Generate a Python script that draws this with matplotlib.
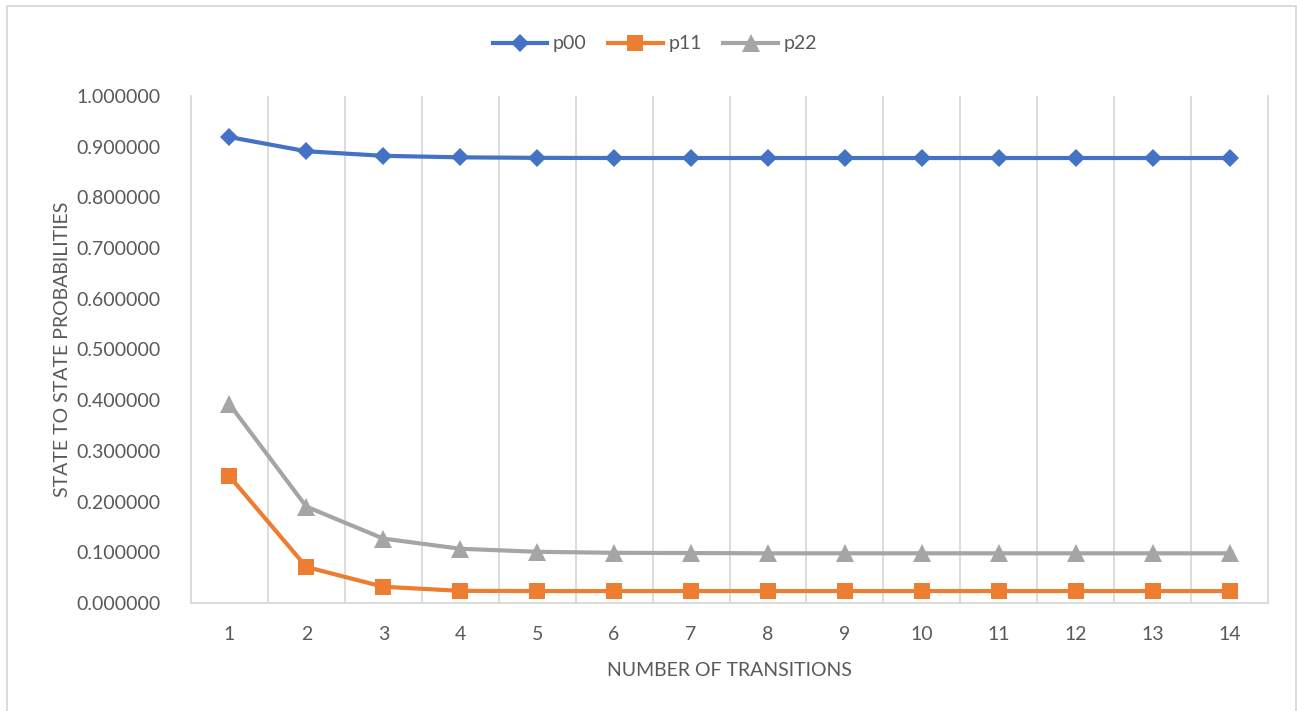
import matplotlib
matplotlib.use("Agg")
import matplotlib.pyplot as plt
from matplotlib.patches import Rectangle
from matplotlib.ticker import FormatStrFormatter

transitions = list(range(1, 15))
p00 = [0.919, 0.891, 0.882, 0.879, 0.878, 0.8777, 0.8777, 0.8777, 0.8777, 0.8777, 0.8777, 0.8777, 0.8777, 0.8777]
p11 = [0.250, 0.071, 0.032, 0.024, 0.0235, 0.0235, 0.0235, 0.0235, 0.0235, 0.0235, 0.0235, 0.0235, 0.0235, 0.0235]
p22 = [0.392, 0.190, 0.127, 0.107, 0.101, 0.099, 0.0985, 0.098, 0.098, 0.098, 0.098, 0.098, 0.098, 0.098]

txt = "#595959"
grid = "#D9D9D9"
plt.rcParams['font.family'] = ['Lato', 'DejaVu Sans']

fig = plt.figure(figsize=(12.97, 7.11), dpi=100)
ax = fig.add_axes([191/1297, 1 - 603/711, (1268 - 191)/1297, (603 - 96)/711])

ax.plot(transitions, p00, color="#4472C4", lw=3, marker="D", ms=9, mew=0, label="p00", zorder=5)
ax.plot(transitions, p11, color="#ED7D31", lw=3, marker="s", ms=11.5, mew=0, label="p11", zorder=4)
ax.plot(transitions, p22, color="#A5A5A5", lw=3, marker="^", ms=12.5, mew=0, label="p22", zorder=3)

ax.set_xlim(0.5, 14.5)
ax.set_ylim(0, 1.0)
ax.set_xticks(transitions)
ax.set_xticks([i + 0.5 for i in range(1, 14)], minor=True)
ax.set_yticks([i / 10 for i in range(11)])
ax.yaxis.set_major_formatter(FormatStrFormatter("%.6f"))
ax.grid(which="minor", axis="x", color=grid, lw=1.3)
ax.tick_params(which="both", length=0, labelsize=14, colors=txt)
ax.tick_params(axis="x", pad=16.5)
ax.tick_params(axis="y", pad=22)

for side in ["left", "right", "bottom"]:
    ax.spines[side].set_color(grid)
    ax.spines[side].set_linewidth(1.3)
ax.spines["top"].set_visible(False)

ax.set_xlabel("NUMBER OF TRANSITIONS", fontsize=14, color=txt, labelpad=13.5)
ax.set_ylabel("STATE TO STATE PROBABILITIES", fontsize=14, color=txt, labelpad=4)

fig.legend(loc="center", bbox_to_anchor=(655/1297, 1 - 44/711), ncol=3, frameon=False,
           fontsize=14, labelcolor=txt, handlelength=2.8, handletextpad=0.3, columnspacing=1.1)

# light frame around the whole chart
fig.patches.append(Rectangle((7/1297, -0.1), (1296 - 7)/1297, 1.1 - 6/711, transform=fig.transFigure,
                             fill=False, edgecolor=grid, lw=1.3))

fig.savefig("out.png", dpi=100)
